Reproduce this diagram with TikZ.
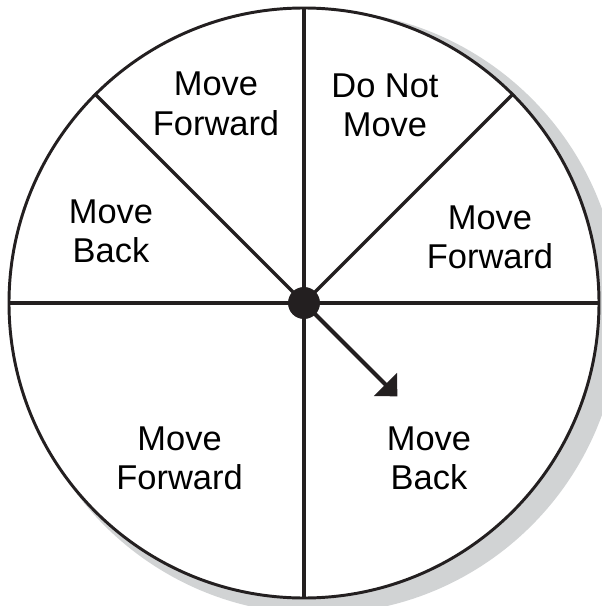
\documentclass[tikz,border=0pt]{standalone}
\usepackage{fontspec}
\setmainfont{Liberation Sans}
\usetikzlibrary{arrows.meta}
\definecolor{ink}{RGB}{35,31,32}
\definecolor{shadowgray}{RGB}{209,211,212}
\begin{document}
\begin{tikzpicture}[
    lbl/.style={align=center, inner sep=0pt, font=\fontsize{24.5}{28}\selectfont},
    rim/.style={draw=ink, line width=2.1pt},
    spoke/.style={draw=ink, line width=2.3pt},
    arr/.style={-{Triangle[length=0.42cm,width=0.8cm]}, draw=ink, fill=ink, line width=3pt}
]
\useasboundingbox (-7.6,-7.575) rectangle (7.425,7.575);
\coordinate (hub) at (0,0);
% Shadow
\fill[shadowgray] (0.35,-0.225) circle (7.55);
% Wheel
\filldraw[rim, fill=white] (hub) circle (7.375);
\draw[spoke] (hub) ++(0,7.375) -- ++(0,-14.75);
\draw[spoke] (hub) ++(-7.375,0) -- ++(14.75,0);
\draw[spoke] (hub) -- (135:7.375);
\draw[spoke] (hub) -- (45:7.375);
% Labels
\node[lbl] (fwdA) at (-2.2,4.975) {Move\\Forward};
\node[lbl] (stay) at (2.025,4.94) {Do Not\\Move};
\node[lbl] (backA) at (-4.825,1.8) {Move\\Back};
\node[lbl] (fwdB) at (4.65,1.64) {Move\\Forward};
\node[lbl] (fwdC) at (-3.11,-3.89) {Move\\Forward};
\node[lbl] (backB) at (3.125,-3.875) {Move\\Back};
% Pointer
\coordinate (tip) at (-45:3.3);
\draw[arr] (hub) -- (tip);
\fill[ink] (hub) circle (0.4);
\end{tikzpicture}
\end{document}
